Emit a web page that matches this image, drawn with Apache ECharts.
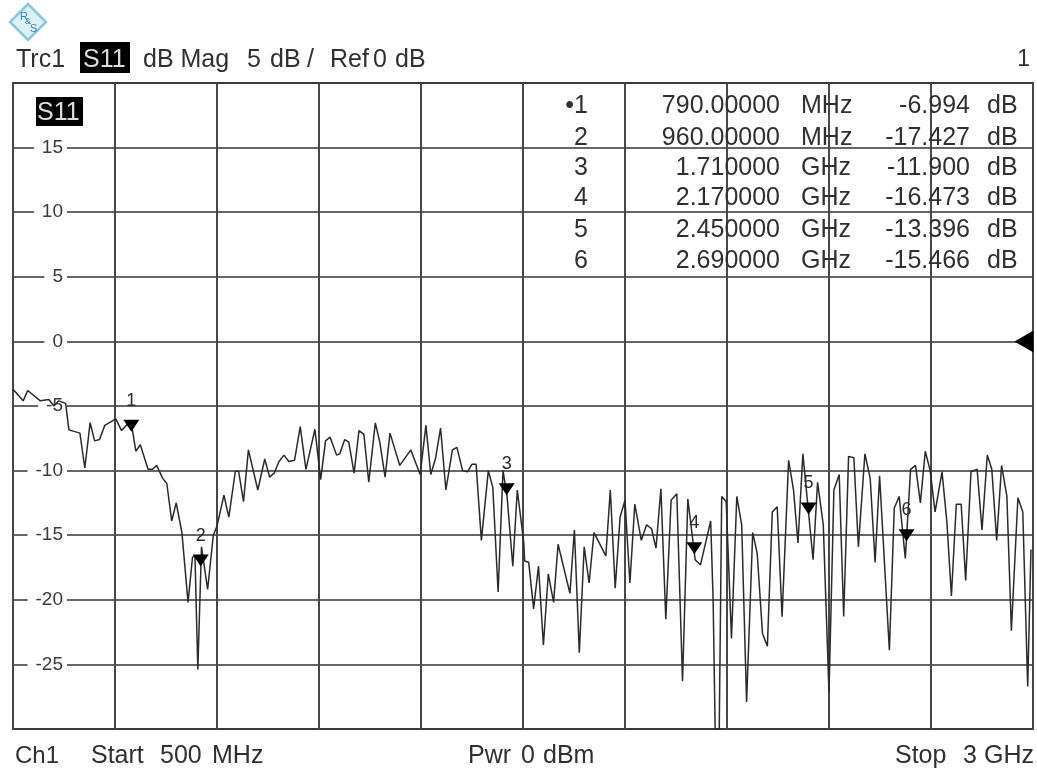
<!DOCTYPE html>
<html>
<head>
<meta charset="utf-8">
<style>html,body{margin:0;padding:0;background:#fff}#c{width:1037px;height:771px}</style>
<script src="https://cdn.jsdelivr.net/npm/echarts@6/dist/echarts.min.js"></script>
</head>
<body>
<div id="c"></div>
<script>
const freqMHz = [500,525,536,567,588,600,612,629,637,664,676,689,700,712,725,752,766,781,793,801,812,831,842,852,867,877,889,900,914,929,940,946,953,962,977,991,1000,1017,1029,1045,1053,1065,1077,1100,1117,1129,1140,1152,1164,1176,1190,1204,1218,1240,1254,1266,1277,1293,1301,1313,1323,1336,1348,1360,1372,1388,1399,1412,1424,1448,1475,1498,1512,1524,1536,1548,1561,1577,1588,1602,1614,1625,1635,1648,1665,1676,1689,1701,1711,1725,1736,1752,1754,1764,1776,1788,1800,1812,1825,1836,1865,1876,1888,1900,1912,1924,1953,1964,1976,1988,2000,2012,2024,2040,2053,2065,2076,2088,2100,2113,2127,2141,2154,2172,2185,2210,2216,2221,2231,2237,2248,2261,2274,2286,2298,2313,2324,2337,2349,2361,2373,2385,2401,2413,2424,2436,2461,2472,2486,2500,2512,2525,2536,2548,2561,2572,2588,2601,2613,2624,2648,2660,2672,2687,2700,2712,2724,2736,2748,2760,2777,2789,2800,2812,2824,2835,2848,2863,2875,2888,2899,2911,2923,2936,2947,2963,2975,2987,2995];
const s11dB = [-3.7,-4.6,-3.8,-4.6,-4.5,-5.0,-4.6,-4.8,-6.85,-7.1,-9.8,-6.3,-7.7,-7.6,-6.5,-6.0,-6.9,-6.4,-6.9,-8.5,-8.0,-9.9,-9.9,-9.6,-10.6,-11.0,-13.9,-12.5,-14.8,-20.2,-16.7,-16.6,-25.4,-15.9,-19.2,-15.0,-14.3,-11.9,-13.6,-10.05,-10.05,-12.4,-8.4,-11.5,-9.1,-10.5,-10.2,-9.3,-8.8,-9.3,-9.2,-6.6,-9.9,-6.8,-10.7,-7.7,-7.4,-8.8,-8.7,-7.6,-7.8,-10.2,-6.9,-7.2,-10.9,-6.3,-7.8,-10.5,-7.1,-9.6,-8.4,-10.3,-6.5,-10.3,-9.0,-6.7,-11.5,-8.4,-8.2,-10,-10.1,-9.5,-9.5,-15.4,-10,-11.3,-19.4,-10,-12,-17.4,-11.5,-15.6,-17,-17.1,-20.7,-17.4,-23.5,-18,-20.2,-15.7,-19.5,-14.6,-24.1,-15.9,-18.7,-14.8,-16.6,-11.5,-19.1,-13.6,-12.3,-18.7,-12.6,-15.4,-14.2,-14.5,-16,-11.4,-21.5,-12.3,-11.8,-26.3,-12.2,-16.9,-17.3,-13.9,-20,-30,-30,-12,-12.4,-23,-12,-14.2,-27.9,-14.8,-16.4,-22.6,-23.6,-13.2,-12.8,-21.3,-9.2,-11.5,-15.6,-8.7,-16.9,-10.9,-14.2,-27.2,-11.5,-10.3,-21.3,-8.9,-9,-15.9,-8.7,-10.6,-17.1,-10.4,-23.9,-12.9,-12,-16.8,-9.9,-9.6,-12.5,-8.5,-10,-13.2,-10.1,-14,-19.7,-12.6,-12.6,-18.5,-10.1,-9.9,-14.6,-8.8,-9.9,-15.4,-9.6,-12,-22.4,-12.1,-13.2,-26.7,-16.1];
const markerFreq = [790,960,1710,2170,2450,2690];
const markerDb = [-6.994,-17.427,-11.9,-16.473,-13.396,-15.466];
const markerFreqText = ['790.00000','960.00000','1.710000','2.170000','2.450000','2.690000'];
const markerUnit = ['MHz','MHz','GHz','GHz','GHz','GHz'];
const markerDbText = ['-6.994','-17.427','-11.900','-16.473','-13.396','-15.466'];
const refLevel = 0;

const FONT = '"Liberation Sans", Arial, sans-serif';
const INK = '#303030';
function txt(x, y, text, size, align, fill) {
  return { type:'text', x:x, y:y, z:50, style:{ text:text, fill:fill||INK, font:(size||25)+'px '+FONT, align:align||'left', verticalAlign:'middle' } };
}
const rowY = [106,138,168,198,230,261];
const gfx = [
  { type:'polygon', z:50, shape:{points:[[28,4],[46,22],[28,40],[10,22]]}, style:{fill:'#dcf0f7',stroke:'#8cc6da',lineWidth:2.5} },
  txt(20,17,'R',11,'left','#3a7fb0'), txt(25,22,'&',9,'left','#3a7fb0'), txt(30,29,'S',11,'left','#3a7fb0'),
  txt(16,60,'Trc1'),
  { type:'rect', z:50, shape:{x:80,y:42,width:50,height:31}, style:{fill:'#000'} },
  txt(83,60,'S11',25,'left','#ddd'),
  txt(143,60,'dB Mag'), txt(247,60,'5'), txt(270,60,'dB'), txt(307,60,'/'), txt(330,60,'Ref'), txt(373,60,'0'), txt(395,60,'dB'),
  txt(1030,60,'1',23,'right'),
  { type:'rect', z:50, shape:{x:36,y:97,width:47,height:29}, style:{fill:'#000'} },
  txt(37,113,'S11',25,'left','#ddd'),
  txt(15,756,'Ch1',24), txt(91,756,'Start'), txt(160,756,'500'), txt(212,756,'MHz'),
  txt(468,756,'Pwr'), txt(521,756,'0'), txt(543,756,'dBm'),
  txt(895,756,'Stop'), txt(963,756,'3'), txt(1034,756,'GHz',25,'right')
];
markerFreqText.forEach((t,i)=>{
  gfx.push(txt(588,rowY[i],(i===0?'\u20221':String(i+1)),25,'right'));
  gfx.push(txt(780,rowY[i],t,25,'right'));
  gfx.push(txt(801,rowY[i],markerUnit[i],25));
  gfx.push(txt(970,rowY[i],markerDbText[i],25,'right'));
  gfx.push(txt(987,rowY[i],'dB',25));
});

const chart = echarts.init(document.getElementById('c'), null, {renderer:'canvas'});
chart.setOption({
  animation:false,
  backgroundColor:'#fff',
  grid:{left:13,top:83,width:1020,height:646,show:true,borderColor:'#555',borderWidth:2,backgroundColor:'transparent'},
  xAxis:{type:'value',min:500,max:3000,interval:250,
    axisLine:{show:false},axisTick:{show:false},axisLabel:{show:false},
    splitLine:{show:true,lineStyle:{color:'#484848',width:2}}},
  yAxis:{type:'value',min:-30,max:20,interval:5,
    axisLine:{show:false},axisTick:{show:false},
    axisLabel:{inside:true,margin:54,align:'right',fontFamily:'Liberation Sans',fontSize:19,color:'#3a3a3a',
      backgroundColor:'#fff',padding:[0,4,0,8],showMinLabel:false,showMaxLabel:false},
    splitLine:{show:true,lineStyle:{color:'#333',width:1.5}}},
  graphic:gfx,
  series:[
    {type:'line',name:'S11',data:freqMHz.map((f,i)=>[f,s11dB[i]]),symbol:'none',clip:true,
      lineStyle:{color:'#2a2a2a',width:1.5},z:3},
    {type:'scatter',name:'Markers',data:markerFreq.map((f,i)=>[f,markerDb[i]]),symbol:'triangle',symbolSize:[16,12],symbolRotate:180,symbolOffset:[0,-6],
      itemStyle:{color:'#000',opacity:1},z:4,
      label:{show:true,position:'top',distance:10,fontFamily:'Liberation Sans',fontSize:18,color:'#2a2a2a',formatter:p=>String(p.dataIndex+1)}},
    {type:'scatter',name:'Ref',data:[[3000,refLevel]],symbol:'triangle',symbolSize:[22,19],symbolRotate:90,symbolOffset:[-9,0],clip:false,
      itemStyle:{color:'#000',opacity:1},z:4}
  ]
});
</script>
</body>
</html>
